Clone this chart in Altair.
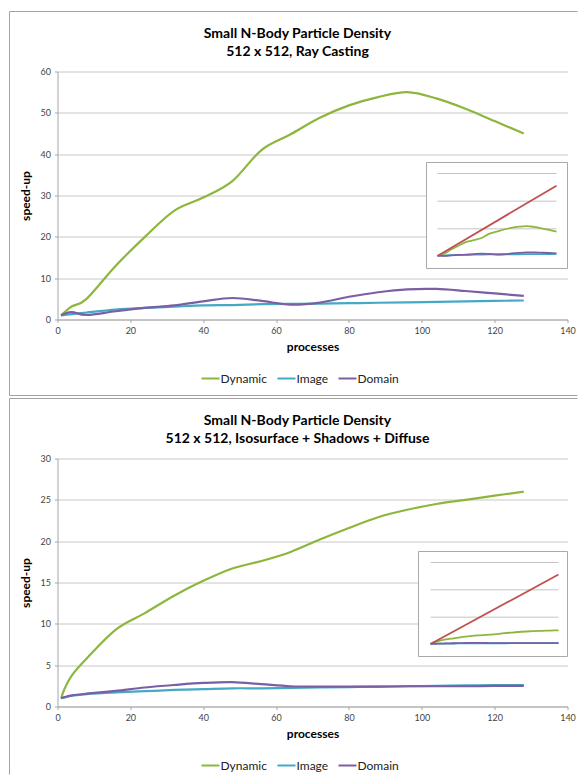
import altair as alt
import pandas as pd

# ---------------- data ----------------
PROCESSES = [1, 2, 4, 8, 16, 24, 32, 40, 48, 56, 64, 72, 80, 88, 96, 104, 112, 120, 128]
SERIES = ["Dynamic", "Image", "Domain"]

# Ray Casting panel
RC_DYNAMIC = [1.0, 1.8, 3.2, 5.0, 13.0, 20.0, 26.3, 29.5, 33.5, 41.0, 44.8, 48.8, 51.8, 53.8, 55.0, 53.5, 51.0, 48.0, 45.0]
RC_IMAGE = [1.0, 1.1, 1.3, 1.7, 2.4, 2.8, 3.1, 3.4, 3.5, 3.7, 3.8, 3.85, 3.95, 4.05, 4.15, 4.25, 4.4, 4.5, 4.6]
RC_DOMAIN = [1.0, 1.4, 1.8, 1.1, 2.0, 2.8, 3.4, 4.4, 5.2, 4.5, 3.6, 4.1, 5.5, 6.6, 7.3, 7.4, 6.9, 6.3, 5.7]

# Isosurface + Shadows + Diffuse panel
IS_DYNAMIC = [1.0, 2.2, 3.8, 5.8, 9.3, 11.3, 13.4, 15.2, 16.7, 17.6, 18.7, 20.2, 21.6, 22.9, 23.8, 24.5, 25.0, 25.5, 26.0]
IS_IMAGE = [1.0, 1.1, 1.3, 1.5, 1.7, 1.85, 2.0, 2.1, 2.2, 2.2, 2.25, 2.3, 2.35, 2.4, 2.45, 2.5, 2.55, 2.6, 2.6]
IS_DOMAIN = [1.0, 1.15, 1.35, 1.55, 1.9, 2.3, 2.6, 2.85, 2.95, 2.7, 2.45, 2.4, 2.4, 2.4, 2.45, 2.45, 2.45, 2.5, 2.5]

# ideal speed-up (inset)
IDEAL_P = [1, 128]
IDEAL_V = [1, 128]
INSET_GRID = [50, 100, 150]

TITLE_1 = "Small N-Body Particle Density"
TITLE_RC = "512 x 512, Ray Casting"
TITLE_IS = "512 x 512, Isosurface + Shadows + Diffuse"

# ---------------- style ----------------
COLORS = ["#8db63d", "#45a9c6", "#7b5fa4"]
IDEAL_COLOR = "#c0504d"
FONT = "Lato"
W, H = 510, 248


def panel(title2, values, y_max, y_step, box, xr, yr, bottom_border, left_end):
    rows = []
    for s, vals in zip(SERIES, values):
        for p, v in zip(PROCESSES, vals):
            rows.append({"processes": p, "speedup": v, "series": s})
    df = pd.DataFrame(rows)

    main = alt.Chart(df).mark_line(interpolate="cardinal", strokeWidth=2.2).encode(
        x=alt.X("processes:Q", scale=alt.Scale(domain=[0, 140], nice=False),
                axis=alt.Axis(values=list(range(0, 141, 20)), title="processes", grid=False,
                              labelFlush=False, labelPadding=4, titlePadding=6)),
        y=alt.Y("speedup:Q", scale=alt.Scale(domain=[0, y_max], nice=False),
                axis=alt.Axis(values=list(range(0, y_max + 1, y_step)), title="speed-up", grid=True,
                              labelFlush=False, labelPadding=4, titlePadding=8)),
        color=alt.Color("series:N", scale=alt.Scale(domain=SERIES, range=COLORS),
                        legend=alt.Legend(orient="none", legendX=143, legendY=297, direction="horizontal",
                                          title=None, symbolType="stroke", symbolSize=324,
                                          symbolStrokeWidth=2, labelFont=FONT, labelFontSize=12,
                                          labelColor="#222", columnPadding=6, labelOffset=0)),
    )

    one = pd.DataFrame({"a": [0]})
    inset_box = alt.Chart(one).mark_rect(fill="white", stroke="#a9a9a9", strokeWidth=1).encode(
        x=alt.value(box[0]), x2=alt.value(box[1]), y=alt.value(box[2]), y2=alt.value(box[3]))

    xs = alt.Scale(domain=[1, 128], range=list(xr), nice=False)
    ys = alt.Scale(domain=[0, 150], range=list(yr), nice=False)

    inset_grid = alt.Chart(pd.DataFrame({"g": INSET_GRID})).mark_rule(color="#c4c4c4", strokeWidth=1).encode(
        y=alt.Y("g:Q", scale=ys, axis=None), x=alt.value(xr[0]), x2=alt.value(xr[1]))

    inset_lines = alt.Chart(df).mark_line(interpolate="cardinal", strokeWidth=1.8).encode(
        x=alt.X("processes:Q", scale=xs, axis=None),
        y=alt.Y("speedup:Q", scale=ys, axis=None),
        color=alt.Color("series:N", scale=alt.Scale(domain=SERIES, range=COLORS), legend=None))

    ideal = alt.Chart(pd.DataFrame({"processes": IDEAL_P, "speedup": IDEAL_V})).mark_line(
        color=IDEAL_COLOR, strokeWidth=1.8).encode(
        x=alt.X("processes:Q", scale=xs, axis=None),
        y=alt.Y("speedup:Q", scale=ys, axis=None))

    border_col = "#a3a3a3"
    borders = [
        alt.Chart(one).mark_rule(color=border_col, strokeWidth=1).encode(
            x=alt.value(-48), x2=alt.value(520), y=alt.value(-60)),
        alt.Chart(one).mark_rule(color=border_col, strokeWidth=1).encode(
            x=alt.value(-48), y=alt.value(-60), y2=alt.value(left_end)),
    ]
    if bottom_border is not None:
        borders.append(alt.Chart(one).mark_rule(color=border_col, strokeWidth=1).encode(
            x=alt.value(-48), x2=alt.value(520), y=alt.value(bottom_border)))

    layer = alt.layer(main, inset_box, inset_grid, inset_lines, ideal, *borders).resolve_scale(
        x="independent", y="independent", color="independent"
    ).properties(
        width=W, height=H,
        title=alt.TitleParams(text=[TITLE_1, title2], font=FONT, fontSize=14, fontWeight="bold",
                              color="#000", anchor="middle", frame="group", dx=-15, offset=-48,
                              lineHeight=18),
    )
    return layer


top = panel(TITLE_RC, [RC_DYNAMIC, RC_IMAGE, RC_DOMAIN], 60, 10,
            box=(369, 510, 91, 197), xr=(380, 499), yr=(185, 102), bottom_border=324, left_end=324)
bottom = panel(TITLE_IS, [IS_DYNAMIC, IS_IMAGE, IS_DOMAIN], 30, 5,
               box=(361, 510, 93, 198), xr=(373, 501), yr=(186, 104), bottom_border=None, left_end=316)

chart = alt.vconcat(top, bottom, spacing=1).resolve_scale(color="independent").resolve_legend(
    color="independent"
).properties(
    padding={"left": 8.5, "top": 10.5, "right": 0, "bottom": 0},
    background="white",
).configure_view(stroke=None).configure_axis(
    domainColor="#a6a6a6", tickColor="#a6a6a6", tickSize=3, gridColor="#c8c8c8",
    labelFont=FONT, labelFontSize=9, labelColor="#444",
    titleFont=FONT, titleFontSize=12, titleFontWeight="bold", titleColor="#000",
)

chart.save("out.html", embed_options={"renderer": "svg", "actions": False})
